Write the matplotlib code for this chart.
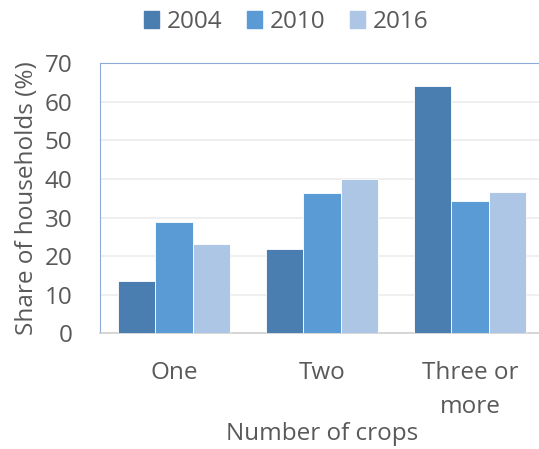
import matplotlib.pyplot as plt
import matplotlib.patches as mpatches
import numpy as np

plt.rcParams['font.family'] = ['Open Sans', 'DejaVu Sans']

# data
categories = ['One', 'Two', 'Three or\nmore']
years = ['2004', '2010', '2016']
share_2004 = [13.6, 21.9, 64.2]
share_2010 = [28.9, 36.3, 34.4]
share_2016 = [23.1, 39.9, 36.6]
colors = ['#4a7eb0', '#5b9bd5', '#adc6e5']
text_color = '#595959'
fs = 17.5

fig = plt.figure(figsize=(5.39, 4.49), dpi=100)
ax = fig.add_axes([100 / 539, 115.7 / 449, 444 / 539, 270 / 449])

x = np.arange(len(categories))
w = 0.253
for i, (vals, col) in enumerate(zip([share_2004, share_2010, share_2016], colors)):
    ax.bar(x + (i - 1) * w, vals, width=w, color=col, edgecolor='white',
           linewidth=0.6, zorder=3)

ax.set_xlim(-0.5, 2.5)
ax.set_ylim(0, 70)
ax.set_yticks(range(0, 71, 10))
ax.set_xticks(x)
ax.set_xticklabels(categories, fontsize=fs, color=text_color,
                   linespacing=1.55)
ax.tick_params(axis='y', length=0, pad=20, labelsize=fs, labelcolor=text_color)
ax.tick_params(axis='x', length=0, pad=20)

# gridlines and frame
ax.grid(axis='y', color='#ececec', linewidth=1.2, zorder=0)
ax.spines['left'].set_color('#8eaadb')
ax.spines['top'].set_color('#8eaadb')
ax.spines['right'].set_visible(False)
ax.spines['bottom'].set_color('#d0d0d0')
ax.spines['bottom'].set_linewidth(1.2)

ax.set_ylabel('Share of households (%)', fontsize=fs, color=text_color,
              labelpad=4)
ax.set_xlabel('Number of crops', fontsize=fs, color=text_color, labelpad=2)

# legend on top
handles = [mpatches.Patch(color=c, label=y) for c, y in zip(colors, years)]
fig.legend(handles=handles, loc='center', bbox_to_anchor=(286 / 539, 1 - 22 / 449),
           ncol=3, frameon=False, fontsize=fs, labelcolor=text_color,
           handlelength=0.65, handleheight=0.65, handletextpad=0.3,
           columnspacing=1.0)

plt.savefig('out.png', dpi=100)
